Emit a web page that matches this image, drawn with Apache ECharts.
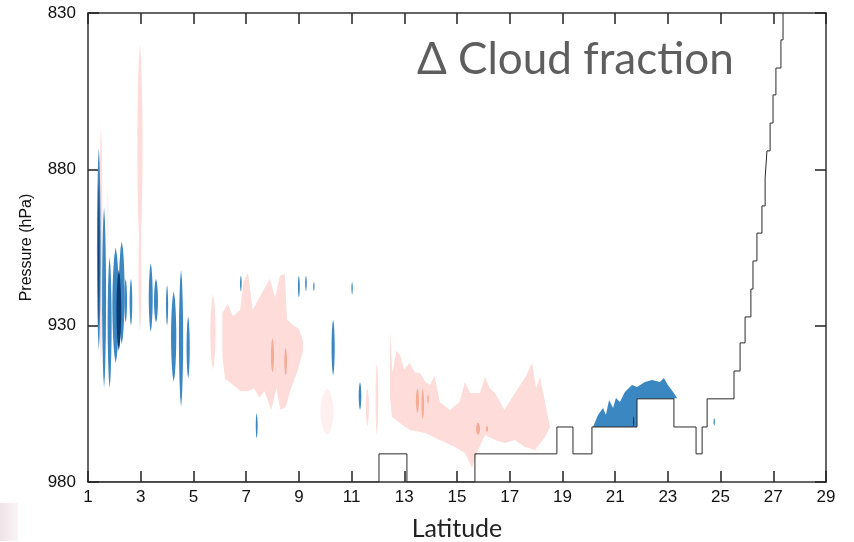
<!DOCTYPE html>
<html>
<head>
    <meta charset="UTF-8">
    <title></title>
    <style type="text/css">
        body { margin: 0; background: #fff; }
        #mychart { width: 854px; height: 542px; }
    </style>
</head>
<body>
<div id='mychart'></div>
<script src='https://cdn.jsdelivr.net/npm/echarts@6/dist/echarts.min.js'></script>
<script>
    // axis ranges / ticks
    var latMin = 1, latMax = 29, latStep = 2;
    var presMin = 830, presMax = 980, presStep = 50;

    // step line (lat, hPa)
    var boundaryLat = [1, 12.04, 12.04, 13.10, 13.10, 15.68, 15.68, 18.79, 18.79, 19.40, 19.40, 20.12, 20.12, 21.83, 21.83,
        23.23, 23.23, 24.07, 24.07, 24.30, 24.30, 24.49, 24.49, 25.51, 25.51, 25.74, 25.74, 25.93, 25.93, 26.15, 26.15,
        26.23, 26.23, 26.38, 26.38, 26.57, 26.57, 26.69, 26.69, 26.76, 26.76, 26.88, 26.88, 26.99, 26.99, 27.10, 27.10,
        27.29, 27.29, 27.37, 27.37];
    var boundaryP = [980, 980, 971, 971, 980, 980, 971, 971, 962.4, 962.4, 971, 971, 962.4, 962.4, 953.4,
        953.4, 962.4, 962.4, 971, 971, 962.4, 962.4, 953.4, 953.4, 944.5, 944.5, 935.5, 935.5, 927.2, 927.2, 918.3,
        918.3, 909.3, 909.3, 900.4, 900.4, 891.7, 891.7, 882.8, 882.8, 874.1, 874.1, 865.2, 865.2, 856.2, 856.2, 847.6,
        847.6, 838.6, 838.6, 830];

    // narrow cloud-change streaks: [lat, top hPa, bottom hPa, width (deg), level]
    // level: 0 faint +, 1 +, 2 strong +, -1 -, -2 strong -
    var streaks = [
        [1.49, 866, 942, 0.12, 1],
        [1.41, 873, 938, 0.14, -1],
        [1.41, 884, 930, 0.05, -2],
        [1.61, 892, 950, 0.15, -1],
        [1.82, 908, 950, 0.15, -1],
        [1.75, 886, 904, 0.06, 0],
        [2.05, 905, 942, 0.25, -1],
        [2.28, 903, 936, 0.22, -1],
        [2.17, 912, 938, 0.18, -2],
        [2.43, 915, 929, 0.1, -1],
        [2.63, 915, 930, 0.1, -1],
        [2.97, 840, 905, 0.2, 1],
        [2.97, 895, 932, 0.11, 1],
        [3.38, 910, 932, 0.15, -1],
        [3.58, 915, 929, 0.15, -1],
        [4.0, 917, 930, 0.08, -1],
        [4.25, 919, 948, 0.2, -1],
        [4.53, 912, 956, 0.16, -1],
        [4.8, 927, 947, 0.12, -1],
        [5.74, 920, 944, 0.2, 1],
        [6.8, 914, 919, 0.06, -1],
        [9.0, 914, 921, 0.07, -1],
        [9.27, 914, 919, 0.06, -1],
        [9.57, 916, 919, 0.05, -1],
        [11.02, 916, 920, 0.05, -1],
        [10.3, 928, 946, 0.12, -1],
        [11.32, 948, 957, 0.1, -1],
        [7.4, 958, 966, 0.07, -1],
        [8.0, 934, 945, 0.12, 2],
        [8.5, 937, 946, 0.1, 2],
        [11.6, 950, 962, 0.12, 1],
        [11.96, 942, 965, 0.1, 1],
        [10.07, 950, 965, 0.5, 0],
        [13.5, 950, 958, 0.12, 2],
        [13.7, 950, 960, 0.1, 2],
        [13.9, 952, 955, 0.06, 2],
        [15.8, 961, 965, 0.15, 2],
        [16.14, 962, 964, 0.08, 2],
        [24.76, 959.5, 962, 0.05, -1],
        [21.7, 959, 962.4, 0.05, -2]
    ];

    // broad regions as outlines of (lat, hPa)
    var pinkWest = [[6.1, 926], [6.3, 923], [6.5, 927], [6.77, 925], [6.9, 916], [7.07, 913], [7.25, 925], [7.5, 921],
        [7.7, 918], [7.9, 915], [8.1, 921], [8.28, 914], [8.47, 913.5], [8.55, 928], [8.8, 930], [9.0, 931], [9.16, 935],
        [9.16, 938], [8.97, 944], [8.7, 950], [8.5, 956], [8.3, 957], [8.15, 950], [7.95, 957], [7.7, 951], [7.5, 953],
        [7.3, 950], [7.07, 951], [6.8, 951], [6.5, 949], [6.2, 947], [6.1, 940]];
    var pinkEast = [[12.46, 931.4], [12.55, 945], [12.7, 938], [12.84, 939.4], [13.0, 944], [13.2, 941.9], [13.4, 945],
        [13.6, 945.1], [13.8, 948], [13.97, 949], [14.15, 946], [14.35, 954.4], [14.73, 957], [15.1, 954.4], [15.3, 948],
        [15.5, 951.5], [15.87, 951.5], [16.06, 946.4], [16.25, 950], [16.44, 951.5], [16.8, 957], [17.2, 951.5],
        [17.6, 946.4], [17.85, 941.9], [18.0, 950], [18.15, 946.4], [18.45, 959.2], [18.53, 962.4],
        [18.34, 965.6], [17.96, 969.8], [17.58, 968.8], [17.2, 966.6], [16.82, 967.5], [16.44, 966.6], [16.06, 965],
        [15.8, 969.8], [15.57, 975.5], [15.3, 970.7], [14.93, 968.8], [14.35, 966.6], [13.8, 964.3], [13.2, 963.4],
        [12.84, 961.1], [12.53, 959.2], [12.46, 952.8]];
    var blueEast = [[20.16, 962.4], [20.35, 958.6], [20.54, 956.3], [20.65, 958.6], [20.77, 953.8], [20.92, 956.3],
        [21.03, 953.1], [21.18, 954.4], [21.37, 951.2], [21.64, 949], [21.83, 949.6], [22.13, 948], [22.4, 947.4],
        [22.7, 948], [22.85, 946.7], [23.0, 949], [23.2, 951.2], [23.35, 953.1], [23.23, 953.4], [21.83, 953.4],
        [21.83, 962.4]];

    var regions = [pinkWest, pinkEast, blueEast];
    var regionLevel = [1, 1, -1];

    var levelColor = {'-2': '#0b3b74', '-1': '#3a87c1', '0': '#fef0ef', '1': '#fddcda', '2': '#f4ac95'};

    var mychart = echarts.init(document.getElementById('mychart'));

    var axisFont = {fontFamily: 'Liberation Sans', fontSize: 17, color: '#111'};
    var frame = {lineStyle: {color: '#333', width: 1.5}};
    var ticks = {inside: true, length: 11, lineStyle: {color: '#222', width: 1.5}};

    var option = {
        backgroundColor: '#fff',
        animation: false,
        grid: {left: 88, right: 28, top: 13, bottom: 60, outerBoundsMode: 'none', containLabel: false},
        xAxis: [{
            type: 'value', min: latMin, max: latMax, interval: latStep,
            name: 'Latitude', nameLocation: 'middle', nameGap: 34,
            nameTextStyle: {fontFamily: 'Lato', fontSize: 25, color: '#222'},
            axisLine: frame, axisTick: ticks, splitLine: {show: false},
            axisLabel: Object.assign({margin: 7}, axisFont)
        }, {
            type: 'value', min: latMin, max: latMax, interval: latStep, position: 'top',
            axisLine: frame, axisTick: ticks, splitLine: {show: false}, axisLabel: {show: false}
        }],
        yAxis: [{
            type: 'value', min: presMin, max: presMax, interval: presStep, inverse: true,
            name: 'Pressure (hPa)', nameLocation: 'middle', nameGap: 53,
            nameTextStyle: {fontFamily: 'Liberation Sans', fontSize: 16, color: '#111'},
            axisLine: frame, axisTick: ticks, splitLine: {show: false},
            axisLabel: Object.assign({margin: 12}, axisFont)
        }, {
            type: 'value', min: presMin, max: presMax, interval: presStep, inverse: true, position: 'right',
            axisLine: frame, axisTick: ticks, splitLine: {show: false}, axisLabel: {show: false}
        }],
        graphic: [{
            type: 'text', left: 417, top: 38,
            style: {text: '\u0394 Cloud fraction', fontFamily: 'Lato', fontSize: 44, fill: '#5e5e5e'}
        }, {
            type: 'rect', left: 0, top: 503, shape: {width: 18, height: 38},
            style: {fill: {type: 'linear', x: 0, y: 0, x2: 1, y2: 0,
                colorStops: [{offset: 0, color: '#eee3e6'}, {offset: 1, color: '#faf5f6'}]}}
        }],
        series: [{
            type: 'custom',
            clip: true,
            z: 2,
            data: regions.map(function (r, i) { return [r[0][0], r[0][1], i]; }),
            renderItem: function (params, api) {
                var idx = api.value(2);
                var pts = regions[idx].map(function (v) { return api.coord(v); });
                return {type: 'polygon', shape: {points: pts},
                    style: {fill: levelColor[String(regionLevel[idx])]}};
            }
        }, {
            type: 'custom',
            clip: true,
            z: 3,
            data: streaks,
            renderItem: function (params, api) {
                var lat = api.value(0), pt = api.value(1), pb = api.value(2), w = api.value(3), lv = api.value(4);
                var n = 14, right = [], left = [];
                for (var i = 0; i <= n; i++) {
                    var t = i / n;
                    var p = pt + (pb - pt) * t;
                    var half = w / 2 * Math.pow(Math.sin(Math.PI * t), 0.6);
                    right.push(api.coord([lat + half, p]));
                    left.unshift(api.coord([lat - half, p]));
                }
                return {type: 'polygon', shape: {points: right.concat(left)},
                    style: {fill: levelColor[String(lv)]}};
            }
        }, {
            type: 'line',
            z: 5,
            showSymbol: false,
            data: boundaryLat.map(function (x, i) { return [x, boundaryP[i]]; }),
            lineStyle: {color: '#2a2a2a', width: 1}
        }]
    };

    mychart.setOption(option);
</script>
</body>
</html>
